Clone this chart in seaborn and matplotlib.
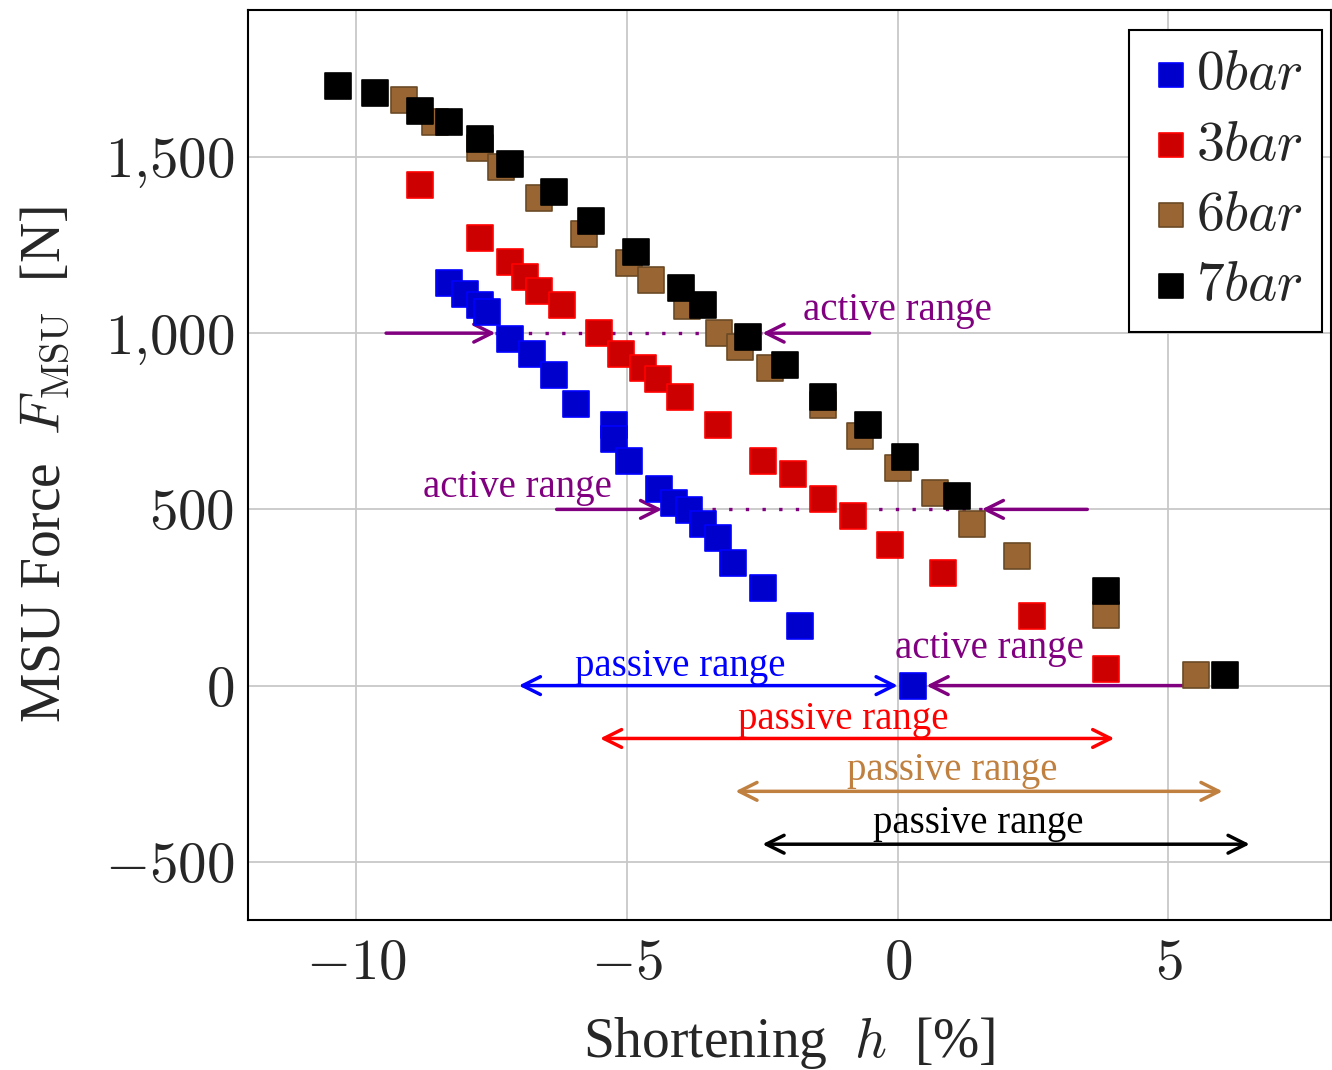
import numpy as np
import pandas as pd
import seaborn as sns
import matplotlib.pyplot as plt
from matplotlib.ticker import FuncFormatter

# shortening h [%] and force [N]
h_0bar = [-8.28, -8.00, -7.72, -7.58, -7.17, -6.76, -6.34, -5.94, -5.24, -5.24,
          -4.96, -4.41, -4.13, -3.85, -3.59, -3.32, -3.04, -2.49, -1.81, 0.28]
f_0bar = [1142, 1111, 1080, 1060, 983, 940, 880, 800, 740, 700,
          637, 558, 518, 498, 458, 419, 348, 277, 169, 0]

h_3bar = [-8.83, -7.72, -7.17, -6.89, -6.62, -6.21, -5.51, -5.12, -4.70, -4.42,
          -4.02, -3.32, -2.49, -1.94, -1.38, -0.83, -0.15, 0.83, 2.47, 3.85]
f_3bar = [1420, 1270, 1202, 1159, 1120, 1080, 1000, 941, 901, 870,
          819, 739, 637, 600, 529, 481, 399, 319, 197, 47]

h_6bar = [-9.11, -8.55, -7.72, -7.32, -6.62, -5.79, -4.96, -4.55, -3.89, -3.30,
          -2.91, -2.36, -1.38, -0.70, 0.0, 0.68, 1.38, 2.21, 3.85, 5.51]
f_6bar = [1661, 1599, 1525, 1471, 1383, 1281, 1199, 1151, 1077, 1000,
          960, 901, 797, 708, 617, 546, 458, 367, 200, 30]

h_7bar = [-10.34, -9.66, -8.83, -8.28, -7.72, -7.17, -6.34, -5.66, -4.83, -4.00,
          -3.59, -2.76, -2.08, -1.38, -0.55, 0.13, 1.09, 3.85, 6.05]
f_7bar = [1702, 1681, 1630, 1599, 1551, 1480, 1400, 1318, 1230, 1128,
          1080, 989, 909, 819, 739, 648, 538, 268, 30]

series_labels = ['0bar', '3bar', '6bar', '7bar']

# passive ranges (start, end, force level)
passive_start = [-7.0, -5.5, -3.0, -2.5]
passive_end = [0.0, 4.0, 6.0, 6.5]
passive_level = [0, -150, -300, -450]

sns.set_style('whitegrid')
plt.rcParams['font.family'] = ['Liberation Serif', 'DejaVu Serif']
plt.rcParams['mathtext.fontset'] = 'cm'

fill_cols = ['#0000CC', '#CC0000', '#996633', '#000000']
edge_cols = ['#0000FF', '#FF0000', '#6B4A26', '#000000']
text_cols = ['#0000FF', '#FF0000', '#BF8040', '#000000']
purple = '#800080'

fig = plt.figure(figsize=(13.32, 10.70), dpi=100)
ax = fig.add_axes([0.1862, 0.1402, 0.813, 0.8505])

all_h = [h_0bar, h_3bar, h_6bar, h_7bar]
all_f = [f_0bar, f_3bar, f_6bar, f_7bar]
for h, f, lab, fc, ec in zip(all_h, all_f, series_labels, fill_cols, edge_cols):
    df = pd.DataFrame({'h': h, 'F': f})
    sns.scatterplot(data=df, x='h', y='F', ax=ax, marker='s', s=330,
                    color=fc, edgecolor=ec, linewidth=1.2, zorder=3,
                    label=r'$' + lab + r'$')

# passive range double arrows
for x0, x1, lvl, c in zip(passive_start, passive_end, passive_level, text_cols):
    ax.annotate('', xy=(x1, lvl), xytext=(x0, lvl),
                arrowprops=dict(arrowstyle='<->', color=c, lw=2.5,
                                mutation_scale=32, shrinkA=0, shrinkB=0),
                zorder=2)

pass_tx = [-4.02, -1.01, 1.0, 1.49]
pass_ty = [55, -95, -240, -390]
for tx, ty, c in zip(pass_tx, pass_ty, text_cols):
    ax.text(tx, ty, 'passive range', color=c, fontsize=28, ha='center', va='center')

# active ranges
def one_arrow(x0, x1, y):
    ax.annotate('', xy=(x1, y), xytext=(x0, y),
                arrowprops=dict(arrowstyle='->', color=purple, lw=2.5,
                                mutation_scale=32, shrinkA=0, shrinkB=0),
                zorder=2)

one_arrow(-9.45, -7.43, 1000)
one_arrow(-0.52, -2.5, 1000)
ax.plot([-7.43, -2.5], [1000, 1000], color=purple, lw=2.4, ls=(0, (1, 4)), zorder=1)

one_arrow(-6.3, -4.35, 500)
one_arrow(3.5, 1.55, 500)
ax.plot([-4.35, 1.55], [500, 500], color=purple, lw=2.4, ls=(0, (1, 4)), zorder=1)

one_arrow(5.62, 0.53, 0)

ax.text(0.0, 1063, 'active range', color=purple, fontsize=28, ha='center', va='center')
ax.text(-7.02, 563, 'active range', color=purple, fontsize=28, ha='center', va='center')
ax.text(1.70, 104, 'active range', color=purple, fontsize=28, ha='center', va='center')

ax.set_xlim(-12, 8)
ax.set_ylim(-665, 1917)
ax.set_xticks([-10, -5, 0, 5])
ax.set_yticks([-500, 0, 500, 1000, 1500])
ax.xaxis.set_major_formatter(FuncFormatter(lambda v, p: r'$%d$' % v))
ax.yaxis.set_major_formatter(FuncFormatter(lambda v, p: r'$' + f'{int(v):,}'.replace(',', '{,}') + r'$'))
ax.tick_params(labelsize=41, length=0)
ax.tick_params(axis='x', pad=14)
ax.tick_params(axis='y', pad=10)
ax.grid(True, color='#c8c8c8', lw=1.3)
for sp in ax.spines.values():
    sp.set_color('black')
    sp.set_linewidth(1.5)

ax.set_xlabel(r'Shortening  $h$  [%]', fontsize=40, labelpad=17)
ax.set_ylabel(r'MSU Force  $F_{\mathrm{MSU}}$  [N]', fontsize=40, labelpad=24)

leg = ax.legend(loc='upper right', bbox_to_anchor=(0.992, 0.978), borderaxespad=0,
                fontsize=40, frameon=True, fancybox=False, framealpha=1,
                edgecolor='black', labelspacing=0.33, handletextpad=0.05,
                handlelength=0.8, borderpad=0.35, markerscale=0.95)
leg.get_frame().set_linewidth(1.5)

fig.savefig('out.png', dpi=100)
